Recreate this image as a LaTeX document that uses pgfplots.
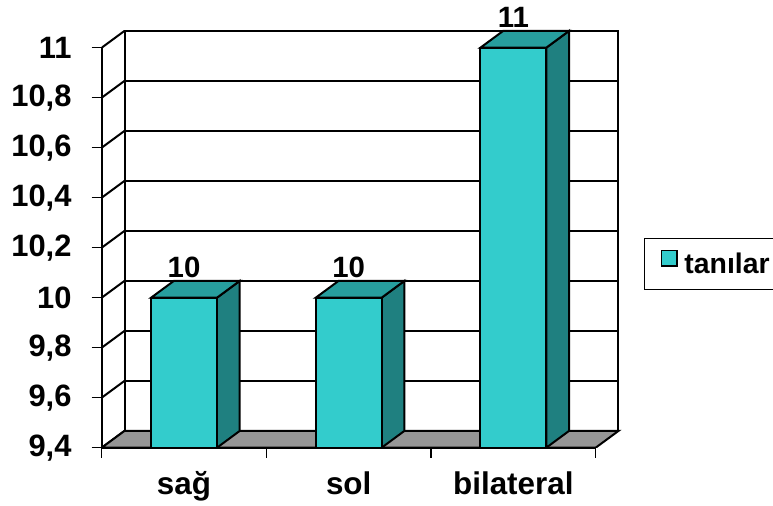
\documentclass[border=0pt]{standalone}
\usepackage{fontspec}
\setmainfont{Liberation Sans}
\usepackage{pgfplots}
\pgfplotsset{compat=1.18}
\usepackage{pgfplotstable}
\definecolor{frontc}{HTML}{33CCCC}
\definecolor{topc}{HTML}{279E9E}
\definecolor{sidec}{HTML}{1F8080}
\definecolor{floorc}{HTML}{969696}

\pgfplotstableread{
x y
0 10
1 10
2 11
}\datatable

\begin{document}
\begin{tikzpicture}
\useasboundingbox (0,0) rectangle (773bp,506bp);
\begin{axis}[
  at={(101.7bp,58.3bp)}, anchor=south west,
  scale only axis, width=526.9bp, height=450bp,
  xmin=-0.5, xmax=2.7, ymin=9.4, ymax=11.2,
  axis on top,
  axis x line*=bottom, axis y line*=left,
  axis line style={black, line width=2bp},
  x axis line style={shorten >=32.93bp},
  y axis line style={shorten >=50bp},
  tick align=outside, major tick length=10bp,
  tick style={black, line width=1.4bp},
  xtick={-0.5,0.5,1.5,2.5}, xticklabels={},
  extra x ticks={0,1,2}, extra x tick labels={sağ,sol,bilateral},
  extra x tick style={major tick length=0pt},
  ytick={9.4,9.6,9.8,10,10.2,10.4,10.6,10.8,11},
  /pgf/number format/assume math mode=true,
  yticklabel style={/pgf/number format/.cd, use comma, fixed, precision=1, /tikz/.cd,
    font=\bfseries\fontsize{31}{36}\selectfont, inner sep=0pt, anchor=east, xshift=-20bp},
  xticklabel style={font=\bfseries\fontsize{31.5}{36}\selectfont, inner sep=0pt, anchor=base, yshift=-46.3bp},
  legend style={at={(axis description cs:1.0292,0.4082)}, anchor=west,
    draw=black, line width=0.8bp, inner xsep=16.7bp, inner ysep=11bp,
    font=\bfseries\fontsize{28.5}{34}\selectfont,
    nodes={inner sep=0pt, text depth=4.5bp},
    /tikz/every odd column/.append style={column sep=6.7bp}},
  legend image code/.code={\draw[fill=frontc, draw=black, line width=1.4bp] (0bp,-0.6bp) rectangle (15.3bp,15bp);},
]
% back wall
\draw[fill=white, line width=2bp] ([shift={(22.8bp,16.8bp)}]axis cs:-0.5,9.4) rectangle ([shift={(22.8bp,16.8bp)}]axis cs:2.5,11);
\pgfplotsinvokeforeach{9.6,9.8,10,10.2,10.4,10.6,10.8}{
  \draw[line width=2bp] ([shift={(22.8bp,16.8bp)}]axis cs:-0.5,#1) -- ([shift={(22.8bp,16.8bp)}]axis cs:2.5,#1);
}
% left wall
\pgfplotsinvokeforeach{9.4,9.6,9.8,10,10.2,10.4,10.6,10.8,11}{
  \draw[line width=2bp] (axis cs:-0.5,#1) -- ++(22.8bp,16.8bp);
}
% floor
\draw[fill=floorc, line width=2bp] (axis cs:-0.5,9.4) -- (axis cs:2.5,9.4) -- ([shift={(22.8bp,16.8bp)}]axis cs:2.5,9.4) -- ([shift={(22.8bp,16.8bp)}]axis cs:-0.5,9.4) -- cycle;
% side faces
\addplot[forget plot, fill=sidec, draw=black, line width=2bp] coordinates {(0.2,9.4) (0.2,10) (0.3384,10.0672) (0.3384,9.4672)} -- cycle;
\addplot[forget plot, fill=sidec, draw=black, line width=2bp] coordinates {(1.2,9.4) (1.2,10) (1.3384,10.0672) (1.3384,9.4672)} -- cycle;
\addplot[forget plot, fill=sidec, draw=black, line width=2bp] coordinates {(2.2,9.4) (2.2,11) (2.3384,11.0672) (2.3384,9.4672)} -- cycle;
% top faces
\addplot[forget plot, fill=topc, draw=black, line width=2bp] coordinates {(-0.2,10) (0.2,10) (0.3384,10.0672) (-0.0616,10.0672)} -- cycle;
\addplot[forget plot, fill=topc, draw=black, line width=2bp] coordinates {(0.8,10) (1.2,10) (1.3384,10.0672) (0.9384,10.0672)} -- cycle;
\addplot[forget plot, fill=topc, draw=black, line width=2bp] coordinates {(1.8,11) (2.2,11) (2.3384,11.0672) (1.9384,11.0672)} -- cycle;
% front faces
\addplot[ybar, bar width=0.4, fill=frontc, draw=black, line width=2bp,
  nodes near coords,
  nodes near coords style={font=\bfseries\fontsize{29.5}{34}\selectfont, inner sep=0pt, yshift=19bp, text=black}]
  table[x=x, y=y] {\datatable};
\addlegendentry{tanılar}
\end{axis}
\end{tikzpicture}
\end{document}
